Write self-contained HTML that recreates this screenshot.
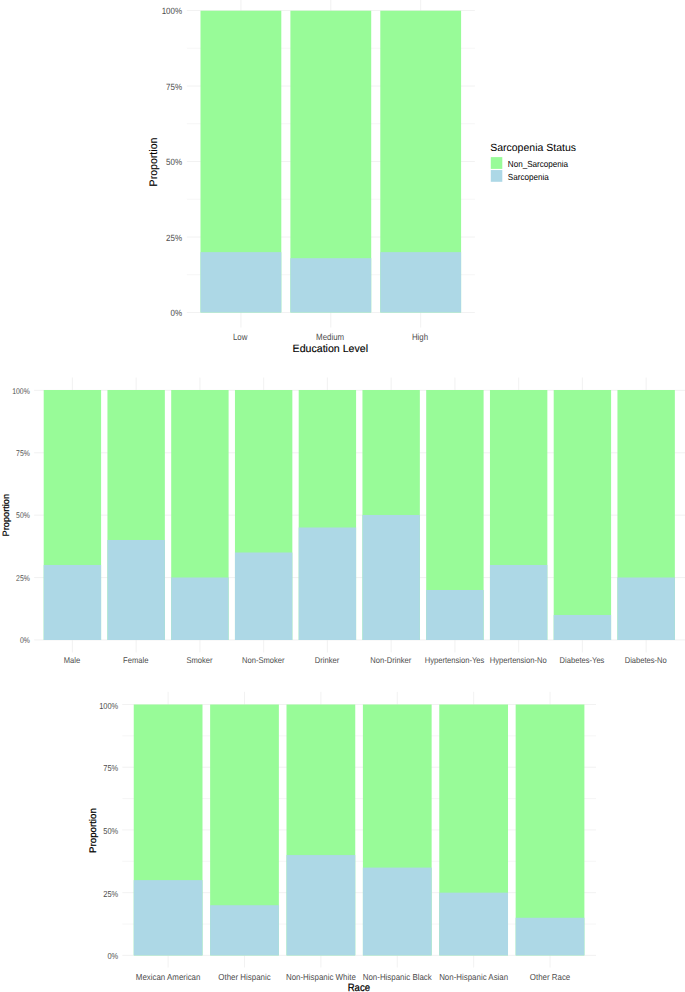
<!DOCTYPE html>
<html lang="en">
<head>
<meta charset="utf-8">
<title>Sarcopenia proportion charts</title>
<style>
html,body{margin:0;padding:0;background:#fff;}
body{width:685px;height:992px;overflow:hidden;}
svg{display:block;font-family:"Liberation Sans",Arial,Helvetica,sans-serif;text-rendering:geometricPrecision;}
</style>
</head>
<body>
<svg width="685" height="992" viewBox="0 0 685 992">
<rect x="0" y="0" width="685" height="992" fill="#ffffff"/>
<g id="chart-education">
<line x1="186.9" x2="474.9" y1="274.75" y2="274.75" stroke="#EBEBEB" stroke-width="0.45"/>
<line x1="186.9" x2="474.9" y1="199.25" y2="199.25" stroke="#EBEBEB" stroke-width="0.45"/>
<line x1="186.9" x2="474.9" y1="123.75" y2="123.75" stroke="#EBEBEB" stroke-width="0.45"/>
<line x1="186.9" x2="474.9" y1="48.25" y2="48.25" stroke="#EBEBEB" stroke-width="0.45"/>
<line x1="186.9" x2="474.9" y1="312.5" y2="312.5" stroke="#EBEBEB" stroke-width="0.65"/>
<line x1="186.9" x2="474.9" y1="237" y2="237" stroke="#EBEBEB" stroke-width="0.65"/>
<line x1="186.9" x2="474.9" y1="161.5" y2="161.5" stroke="#EBEBEB" stroke-width="0.65"/>
<line x1="186.9" x2="474.9" y1="86" y2="86" stroke="#EBEBEB" stroke-width="0.65"/>
<line x1="186.9" x2="474.9" y1="10.5" y2="10.5" stroke="#EBEBEB" stroke-width="0.65"/>
<line x1="240.9" x2="240.9" y1="0" y2="327.6" stroke="#EBEBEB" stroke-width="0.65"/>
<line x1="330.8" x2="330.8" y1="0" y2="327.6" stroke="#EBEBEB" stroke-width="0.65"/>
<line x1="420.7" x2="420.7" y1="0" y2="327.6" stroke="#EBEBEB" stroke-width="0.65"/>
<rect x="200.5" y="10.7" width="80.8" height="301.8" fill="#98FB98"/>
<rect x="200.5" y="252.14" width="80.8" height="60.36" fill="#ADD8E6"/>
<rect x="290.4" y="10.7" width="80.8" height="301.8" fill="#98FB98"/>
<rect x="290.4" y="258.18" width="80.8" height="54.32" fill="#ADD8E6"/>
<rect x="380.3" y="10.7" width="80.8" height="301.8" fill="#98FB98"/>
<rect x="380.3" y="252.14" width="80.8" height="60.36" fill="#ADD8E6"/>
<text transform="translate(182,316.35) scale(0.884,1)" font-size="9.0" fill="#4D4D4D" text-anchor="end">0%</text>
<text transform="translate(182,240.85) scale(0.884,1)" font-size="9.0" fill="#4D4D4D" text-anchor="end">25%</text>
<text transform="translate(182,165.35) scale(0.884,1)" font-size="9.0" fill="#4D4D4D" text-anchor="end">50%</text>
<text transform="translate(182,89.85) scale(0.884,1)" font-size="9.0" fill="#4D4D4D" text-anchor="end">75%</text>
<text transform="translate(182,14.35) scale(0.884,1)" font-size="9.0" fill="#4D4D4D" text-anchor="end">100%</text>
<text transform="translate(240.2,340.1) scale(0.875,1)" font-size="9.0" fill="#4D4D4D" text-anchor="middle">Low</text>
<text transform="translate(330.1,340.1) scale(0.875,1)" font-size="9.0" fill="#4D4D4D" text-anchor="middle">Medium</text>
<text transform="translate(420,340.1) scale(0.875,1)" font-size="9.0" fill="#4D4D4D" text-anchor="middle">High</text>
<text transform="translate(330.3,351.5)" font-size="10.6" fill="#000" stroke="#000" stroke-width="0.12" text-anchor="middle">Education Level</text>
<text transform="translate(157.3,162) rotate(-90) scale(0.972,1)" font-size="10.9" fill="#000" stroke="#000" stroke-width="0.12" text-anchor="middle">Proportion</text>
<text x="490.2" y="150.6" font-size="10.5" fill="#000">Sarcopenia Status</text>
<rect x="490.8" y="157.1" width="11.5" height="11.8" fill="#98FB98"/>
<rect x="490.8" y="170.05" width="11.5" height="11.75" fill="#ADD8E6"/>
<text transform="translate(507.8,166.8) scale(0.92,1)" font-size="8.8" fill="#000">Non_Sarcopenia</text>
<text transform="translate(507.8,179.7) scale(0.92,1)" font-size="8.8" fill="#000">Sarcopenia</text>
</g>
<g id="chart-lifestyle">
<line x1="34.1" x2="685" y1="639.9" y2="639.9" stroke="#EBEBEB" stroke-width="0.65"/>
<line x1="34.1" x2="685" y1="577.52" y2="577.52" stroke="#EBEBEB" stroke-width="0.65"/>
<line x1="34.1" x2="685" y1="515.15" y2="515.15" stroke="#EBEBEB" stroke-width="0.65"/>
<line x1="34.1" x2="685" y1="452.77" y2="452.77" stroke="#EBEBEB" stroke-width="0.65"/>
<line x1="34.1" x2="685" y1="390.4" y2="390.4" stroke="#EBEBEB" stroke-width="0.65"/>
<line x1="72.4" x2="72.4" y1="377.5" y2="652.5" stroke="#EBEBEB" stroke-width="0.65"/>
<line x1="136.15" x2="136.15" y1="377.5" y2="652.5" stroke="#EBEBEB" stroke-width="0.65"/>
<line x1="199.9" x2="199.9" y1="377.5" y2="652.5" stroke="#EBEBEB" stroke-width="0.65"/>
<line x1="263.65" x2="263.65" y1="377.5" y2="652.5" stroke="#EBEBEB" stroke-width="0.65"/>
<line x1="327.4" x2="327.4" y1="377.5" y2="652.5" stroke="#EBEBEB" stroke-width="0.65"/>
<line x1="391.15" x2="391.15" y1="377.5" y2="652.5" stroke="#EBEBEB" stroke-width="0.65"/>
<line x1="454.9" x2="454.9" y1="377.5" y2="652.5" stroke="#EBEBEB" stroke-width="0.65"/>
<line x1="518.65" x2="518.65" y1="377.5" y2="652.5" stroke="#EBEBEB" stroke-width="0.65"/>
<line x1="582.4" x2="582.4" y1="377.5" y2="652.5" stroke="#EBEBEB" stroke-width="0.65"/>
<line x1="646.15" x2="646.15" y1="377.5" y2="652.5" stroke="#EBEBEB" stroke-width="0.65"/>
<rect x="43.7" y="390" width="57.4" height="250" fill="#98FB98"/>
<rect x="43.7" y="565" width="57.4" height="75" fill="#ADD8E6"/>
<rect x="107.45" y="390" width="57.4" height="250" fill="#98FB98"/>
<rect x="107.45" y="540" width="57.4" height="100" fill="#ADD8E6"/>
<rect x="171.2" y="390" width="57.4" height="250" fill="#98FB98"/>
<rect x="171.2" y="577.5" width="57.4" height="62.5" fill="#ADD8E6"/>
<rect x="234.95" y="390" width="57.4" height="250" fill="#98FB98"/>
<rect x="234.95" y="552.5" width="57.4" height="87.5" fill="#ADD8E6"/>
<rect x="298.7" y="390" width="57.4" height="250" fill="#98FB98"/>
<rect x="298.7" y="527.5" width="57.4" height="112.5" fill="#ADD8E6"/>
<rect x="362.45" y="390" width="57.4" height="250" fill="#98FB98"/>
<rect x="362.45" y="515" width="57.4" height="125" fill="#ADD8E6"/>
<rect x="426.2" y="390" width="57.4" height="250" fill="#98FB98"/>
<rect x="426.2" y="590" width="57.4" height="50" fill="#ADD8E6"/>
<rect x="489.95" y="390" width="57.4" height="250" fill="#98FB98"/>
<rect x="489.95" y="565" width="57.4" height="75" fill="#ADD8E6"/>
<rect x="553.7" y="390" width="57.4" height="250" fill="#98FB98"/>
<rect x="553.7" y="615" width="57.4" height="25" fill="#ADD8E6"/>
<rect x="617.45" y="390" width="57.4" height="250" fill="#98FB98"/>
<rect x="617.45" y="577.5" width="57.4" height="62.5" fill="#ADD8E6"/>
<text transform="translate(29.8,643.2) scale(0.827,1)" font-size="8.3" fill="#4D4D4D" text-anchor="end">0%</text>
<text transform="translate(29.8,580.82) scale(0.827,1)" font-size="8.3" fill="#4D4D4D" text-anchor="end">25%</text>
<text transform="translate(29.8,518.45) scale(0.827,1)" font-size="8.3" fill="#4D4D4D" text-anchor="end">50%</text>
<text transform="translate(29.8,456.07) scale(0.827,1)" font-size="8.3" fill="#4D4D4D" text-anchor="end">75%</text>
<text transform="translate(29.8,393.7) scale(0.827,1)" font-size="8.3" fill="#4D4D4D" text-anchor="end">100%</text>
<text transform="translate(72,662.9) scale(0.905,1)" font-size="8.4" fill="#4D4D4D" text-anchor="middle">Male</text>
<text transform="translate(135.75,662.9) scale(0.905,1)" font-size="8.4" fill="#4D4D4D" text-anchor="middle">Female</text>
<text transform="translate(199.5,662.9) scale(0.905,1)" font-size="8.4" fill="#4D4D4D" text-anchor="middle">Smoker</text>
<text transform="translate(263.25,662.9) scale(0.905,1)" font-size="8.4" fill="#4D4D4D" text-anchor="middle">Non-Smoker</text>
<text transform="translate(327,662.9) scale(0.905,1)" font-size="8.4" fill="#4D4D4D" text-anchor="middle">Drinker</text>
<text transform="translate(390.75,662.9) scale(0.905,1)" font-size="8.4" fill="#4D4D4D" text-anchor="middle">Non-Drinker</text>
<text transform="translate(454.5,662.9) scale(0.905,1)" font-size="8.4" fill="#4D4D4D" text-anchor="middle">Hypertension-Yes</text>
<text transform="translate(518.25,662.9) scale(0.905,1)" font-size="8.4" fill="#4D4D4D" text-anchor="middle">Hypertension-No</text>
<text transform="translate(582,662.9) scale(0.905,1)" font-size="8.4" fill="#4D4D4D" text-anchor="middle">Diabetes-Yes</text>
<text transform="translate(645.75,662.9) scale(0.905,1)" font-size="8.4" fill="#4D4D4D" text-anchor="middle">Diabetes-No</text>
<text transform="translate(8.8,515.2) rotate(-90)" font-size="9.2" fill="#000" stroke="#000" stroke-width="0.2" text-anchor="middle">Proportion</text>
</g>
<g id="chart-race">
<line x1="122.3" x2="596" y1="924.04" y2="924.04" stroke="#EBEBEB" stroke-width="0.45"/>
<line x1="122.3" x2="596" y1="861.31" y2="861.31" stroke="#EBEBEB" stroke-width="0.45"/>
<line x1="122.3" x2="596" y1="798.59" y2="798.59" stroke="#EBEBEB" stroke-width="0.45"/>
<line x1="122.3" x2="596" y1="735.86" y2="735.86" stroke="#EBEBEB" stroke-width="0.45"/>
<line x1="122.3" x2="596" y1="955.4" y2="955.4" stroke="#EBEBEB" stroke-width="0.65"/>
<line x1="122.3" x2="596" y1="892.67" y2="892.67" stroke="#EBEBEB" stroke-width="0.65"/>
<line x1="122.3" x2="596" y1="829.95" y2="829.95" stroke="#EBEBEB" stroke-width="0.65"/>
<line x1="122.3" x2="596" y1="767.23" y2="767.23" stroke="#EBEBEB" stroke-width="0.65"/>
<line x1="122.3" x2="596" y1="704.5" y2="704.5" stroke="#EBEBEB" stroke-width="0.65"/>
<line x1="168.12" x2="168.12" y1="691.9" y2="967.5" stroke="#EBEBEB" stroke-width="0.65"/>
<line x1="244.5" x2="244.5" y1="691.9" y2="967.5" stroke="#EBEBEB" stroke-width="0.65"/>
<line x1="320.88" x2="320.88" y1="691.9" y2="967.5" stroke="#EBEBEB" stroke-width="0.65"/>
<line x1="397.26" x2="397.26" y1="691.9" y2="967.5" stroke="#EBEBEB" stroke-width="0.65"/>
<line x1="473.64" x2="473.64" y1="691.9" y2="967.5" stroke="#EBEBEB" stroke-width="0.65"/>
<line x1="550.02" x2="550.02" y1="691.9" y2="967.5" stroke="#EBEBEB" stroke-width="0.65"/>
<rect x="133.75" y="704.5" width="68.74" height="250.9" fill="#98FB98"/>
<rect x="133.75" y="880.13" width="68.74" height="75.27" fill="#ADD8E6"/>
<rect x="210.13" y="704.5" width="68.74" height="250.9" fill="#98FB98"/>
<rect x="210.13" y="905.22" width="68.74" height="50.18" fill="#ADD8E6"/>
<rect x="286.51" y="704.5" width="68.74" height="250.9" fill="#98FB98"/>
<rect x="286.51" y="855.04" width="68.74" height="100.36" fill="#ADD8E6"/>
<rect x="362.89" y="704.5" width="68.74" height="250.9" fill="#98FB98"/>
<rect x="362.89" y="867.59" width="68.74" height="87.81" fill="#ADD8E6"/>
<rect x="439.27" y="704.5" width="68.74" height="250.9" fill="#98FB98"/>
<rect x="439.27" y="892.67" width="68.74" height="62.73" fill="#ADD8E6"/>
<rect x="515.65" y="704.5" width="68.74" height="250.9" fill="#98FB98"/>
<rect x="515.65" y="917.76" width="68.74" height="37.63" fill="#ADD8E6"/>
<text transform="translate(118.2,959.4) scale(0.857,1)" font-size="8.7" fill="#4D4D4D" text-anchor="end">0%</text>
<text transform="translate(118.2,896.67) scale(0.857,1)" font-size="8.7" fill="#4D4D4D" text-anchor="end">25%</text>
<text transform="translate(118.2,833.95) scale(0.857,1)" font-size="8.7" fill="#4D4D4D" text-anchor="end">50%</text>
<text transform="translate(118.2,771.23) scale(0.857,1)" font-size="8.7" fill="#4D4D4D" text-anchor="end">75%</text>
<text transform="translate(118.2,708.5) scale(0.857,1)" font-size="8.7" fill="#4D4D4D" text-anchor="end">100%</text>
<text transform="translate(168.12,979.8) scale(0.91,1)" font-size="8.7" fill="#4D4D4D" text-anchor="middle">Mexican American</text>
<text transform="translate(244.5,979.8) scale(0.91,1)" font-size="8.7" fill="#4D4D4D" text-anchor="middle">Other Hispanic</text>
<text transform="translate(320.88,979.8) scale(0.91,1)" font-size="8.7" fill="#4D4D4D" text-anchor="middle">Non-Hispanic White</text>
<text transform="translate(397.26,979.8) scale(0.91,1)" font-size="8.7" fill="#4D4D4D" text-anchor="middle">Non-Hispanic Black</text>
<text transform="translate(473.64,979.8) scale(0.91,1)" font-size="8.7" fill="#4D4D4D" text-anchor="middle">Non-Hispanic Asian</text>
<text transform="translate(550.02,979.8) scale(0.91,1)" font-size="8.7" fill="#4D4D4D" text-anchor="middle">Other Race</text>
<text transform="translate(358.85,990.55) scale(0.89,1)" font-size="10.7" fill="#000" stroke="#000" stroke-width="0.25" text-anchor="middle">Race</text>
<text transform="translate(95.5,830.55) rotate(-90) scale(1.02,1)" font-size="9.5" fill="#000" stroke="#000" stroke-width="0.25" text-anchor="middle">Proportion</text>
</g>
</svg>
</body>
</html>
